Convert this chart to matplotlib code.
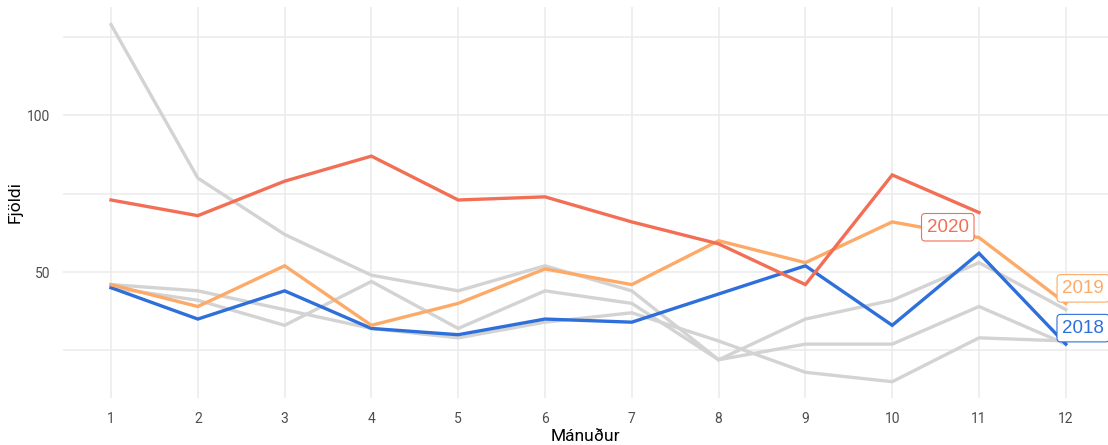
import matplotlib
matplotlib.use("Agg")
import matplotlib.pyplot as plt
import numpy as np

plt.rcParams['font.family'] = ['Roboto', 'DejaVu Sans']

manudur = list(range(1, 13))

# eldri ár (grá)
gamalt_a = [129, 80, 62, 49, 44, 52, 44, 22, 35, 41, 53, 38]
gamalt_b = [45, 41, 33, 47, 32, 44, 40, 22, 27, 27, 39, 27]
gamalt_c = [46, 44, 38, 32, 29, 34, 37, 28, 18, 15, 29, 28]

ar_2018 = [45, 35, 44, 32, 30, 35, 34, 43, 52, 33, 56, 27]
ar_2019 = [46, 39, 52, 33, 40, 51, 46, 60, 53, 66, 61, 40]
ar_2020 = [73, 68, 79, 87, 73, 74, 66, 59, 46, 81, 69]

merki = ['2020', '2019', '2018']
merki_x = [10.64, 12.20, 12.20]
merki_y = [64.3, 44.8, 32.1]

rautt = '#F26F55'
gult = '#FDAA68'
blatt = '#2F6FDA'
grar = '#D3D3D3'

fig = plt.figure(figsize=(11.08, 4.45), dpi=100)
ax = fig.add_axes([63 / 1108, 1 - 398 / 445, 1 - 63 / 1108, (398 - 7) / 445])

lw = 2.4
for g in [gamalt_a, gamalt_b, gamalt_c]:
    ax.plot(manudur, g, color=grar, lw=lw, solid_joinstyle='miter')
ax.plot(manudur, ar_2018, color=blatt, lw=lw, solid_joinstyle='miter')
ax.plot(manudur, ar_2019, color=gult, lw=lw, solid_joinstyle='miter')
ax.plot(manudur[:len(ar_2020)], ar_2020, color=rautt, lw=lw, solid_joinstyle='miter')

for txt, x, y, c in zip(merki, merki_x, merki_y, [rautt, gult, blatt]):
    ax.text(x, y, txt, color=c, fontsize=13.5, ha='center', va='center',
            family=['Liberation Sans', 'DejaVu Sans'], clip_on=False,
            bbox=dict(boxstyle='round,pad=0.28,rounding_size=0.2', fc='white',
                      ec=c, lw=0.8))

ax.set_xlim(0.447, 12.486)
ax.set_ylim(9.8, 134.6)
ax.set_xticks(manudur)
ax.set_yticks([50, 100])
ax.set_yticks([25, 75, 125], minor=True)

ax.grid(True, which='major', color='#EBEBEB', lw=1.1)
ax.grid(True, which='minor', axis='y', color='#EBEBEB', lw=1.1)
ax.set_axisbelow(True)
for s in ax.spines.values():
    s.set_visible(False)
ax.tick_params(which='both', length=0, labelsize=10, labelcolor='#4D4D4D')
ax.tick_params(axis='x', pad=10)
ax.tick_params(axis='y', pad=9)

ax.set_xlabel('Mánuður', fontsize=12.5, labelpad=2)
ax.set_ylabel('Fjöldi', fontsize=12.5, labelpad=3)

fig.savefig('out.png', dpi=100)
